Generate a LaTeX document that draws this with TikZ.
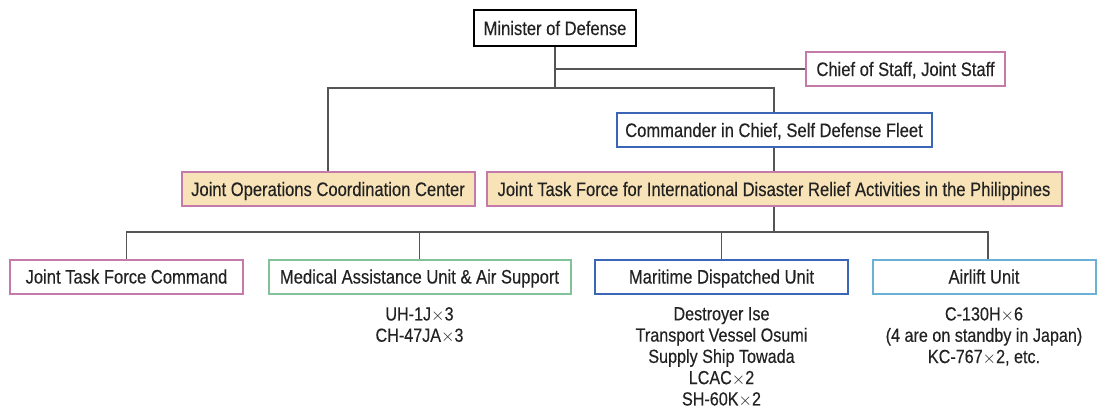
\documentclass[tikz,border=0pt]{standalone}
\usepackage{fontspec}
\setmainfont{Liberation Sans}[FakeStretch=0.85, FakeBold=0.3]
\definecolor{pinkb}{HTML}{C57BA9}
\definecolor{beige}{HTML}{F8E2B8}
\definecolor{blueb}{HTML}{3A66B5}
\definecolor{greenb}{HTML}{82C19A}
\definecolor{lblue}{HTML}{6BB1D6}
\definecolor{linec}{HTML}{555555}
\definecolor{txt}{HTML}{222222}
\begin{document}
\begin{tikzpicture}[x=1pt,y=-1pt,
  box/.style={draw, line width=2pt, fill=white, inner sep=0pt, minimum height=34pt, text height=16pt, text depth=2pt, font=\fontsize{19.5}{22}\selectfont, text=txt},
  conn/.style={draw=linec, line width=1.2pt},
  lst/.style={align=center, font=\fontsize{19}{21.3}\selectfont, text=txt, anchor=north, inner sep=0pt}]
\useasboundingbox (0,0) rectangle (1097,408);
\node[box, draw=black, line width=2.2pt, minimum width=162pt, minimum height=36pt] (min) at (555,28) {Minister of Defense};
\node[box, draw=pinkb, minimum width=199pt] (chief) at (905.5,69) {Chief of Staff, Joint Staff};
\node[box, draw=blueb, minimum width=315pt] (cmd) at (774,130) {Commander in Chief, Self Defense Fleet};
\node[box, draw=pinkb, fill=beige, minimum width=293pt] (jocc) at (328,189) {Joint Operations Coordination Center};
\node[box, draw=pinkb, fill=beige, minimum width=575pt] (jtf) at (774,189) {Joint Task Force for International Disaster Relief Activities in the Philippines};
\node[box, draw=pinkb, minimum width=233pt] (c1) at (126.5,276.5) {Joint Task Force Command};
\node[box, draw=greenb, minimum width=302pt] (c2) at (419.5,276.5) {Medical Assistance Unit \& Air Support};
\node[box, draw=blueb, minimum width=253pt] (c3) at (721.5,276.5) {Maritime Dispatched Unit};
\node[box, draw=lblue, minimum width=223pt] (c4) at (984,276.5) {Airlift Unit};
\coordinate (b1) at (555,88);
\coordinate (b2) at (774,232);
\draw[conn] (min.south) |- (chief.west);
\draw[conn] (min.south) -- (b1);
\draw[conn] (jocc.north) |- (b1) -| (cmd.north);
\draw[conn] (cmd.south) -- (jtf.north);
\draw[conn] (jtf.south) -- (b2);
\draw[conn] (c1.north) |- (b2) -| ([xshift=4pt]c4.north);
\draw[conn] (c2.north) -- (c2.north |- b2);
\draw[conn] (c3.north) -- (c3.north |- b2);
\node[lst] (t2) at (419.5,307) {UH-1J$\times$3\\CH-47JA$\times$3};
\node[lst] (t3) at (721.5,307) {Destroyer Ise\\Transport Vessel Osumi\\Supply Ship Towada\\LCAC$\times$2\\SH-60K$\times$2};
\node[lst] (t4) at (984,307) {C-130H$\times$6\\(4 are on standby in Japan)\\KC-767$\times$2, etc.};
\end{tikzpicture}
\end{document}
